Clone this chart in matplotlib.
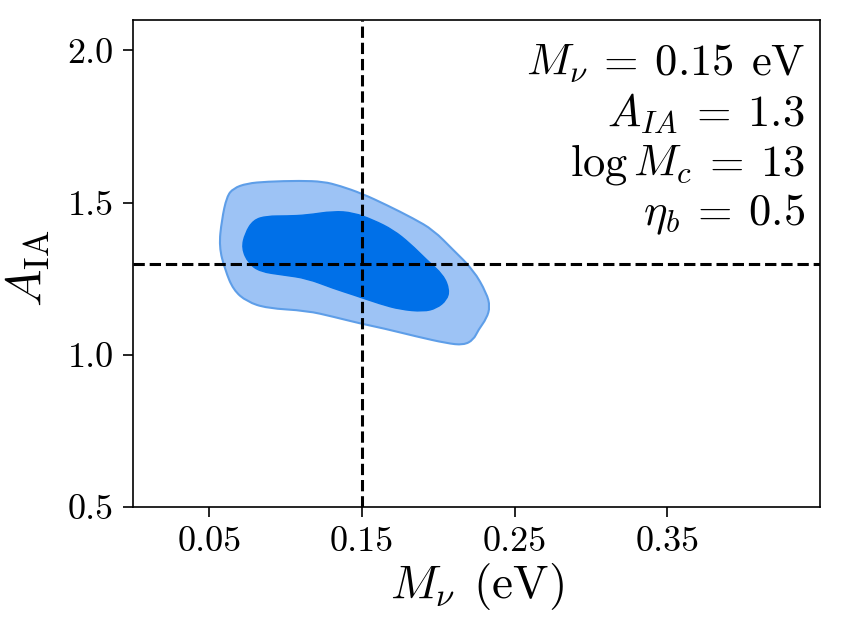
import matplotlib
matplotlib.use("Agg")
import matplotlib.pyplot as plt
from matplotlib.path import Path
from matplotlib.patches import PathPatch

plt.rcParams['font.family'] = 'serif'
plt.rcParams['font.serif'] = ['cmr10']
plt.rcParams['mathtext.fontset'] = 'cm'
plt.rcParams['axes.unicode_minus'] = False

# Fiducial values
mnu_fid = 0.15
aia_fid = 1.3

# Outer (2-sigma) contour vertices: M_nu (eV), A_IA
outer_x = [0.0563, 0.0581, 0.0614, 0.0657, 0.0745, 0.0876, 0.1094, 0.1247, 0.1356,
           0.1498, 0.1662, 0.1836, 0.1967, 0.2098, 0.2229, 0.2316, 0.2338, 0.2316,
           0.2262, 0.2229, 0.2164, 0.2054, 0.1858, 0.1640, 0.1487, 0.1312, 0.1138,
           0.0876, 0.0745, 0.0657, 0.0603]
outer_y = [1.355, 1.443, 1.520, 1.547, 1.563, 1.569, 1.572, 1.569, 1.555,
           1.530, 1.492, 1.448, 1.410, 1.344, 1.279, 1.202, 1.158, 1.120,
           1.082, 1.049, 1.032, 1.038, 1.060, 1.087, 1.103, 1.125, 1.145,
           1.153, 1.175, 1.213, 1.279]

# Inner (1-sigma) contour vertices
inner_x = [0.0712, 0.0734, 0.0788, 0.0876, 0.1007, 0.1138, 0.1312, 0.1443, 0.1574,
           0.1705, 0.1814, 0.1923, 0.2033, 0.2072, 0.2054, 0.1989, 0.1902, 0.1749,
           0.1618, 0.1443, 0.1312, 0.1138, 0.0985, 0.0832, 0.0756]
inner_y = [1.350, 1.399, 1.443, 1.456, 1.456, 1.459, 1.472, 1.467, 1.443,
           1.410, 1.366, 1.312, 1.262, 1.213, 1.180, 1.153, 1.142, 1.149,
           1.167, 1.197, 1.218, 1.251, 1.262, 1.273, 1.301]

xticks = [0.05, 0.15, 0.25, 0.35]
yticks = [0.5, 1.0, 1.5, 2.0]
xtick_labels = ['0.05', '0.15', '0.25', '0.35']
ytick_labels = ['0.5', '1.0', '1.5', '2.0']

annot_lines = [r'$M_\nu \:=\: 0.15\;\, \mathrm{eV}$', r'$A_{IA} \:=\: 1.3$',
               r'$\log M_c \:=\: 13$', r'$\eta_b \:=\: 0.5$']


def smooth_closed_path(xs, ys):
    """Closed path using the vertices as quadratic Bezier control points."""
    n = len(xs)
    pts = list(zip(xs, ys))
    mids = [((pts[i][0] + pts[(i + 1) % n][0]) / 2, (pts[i][1] + pts[(i + 1) % n][1]) / 2)
            for i in range(n)]
    verts = [mids[-1]]
    codes = [Path.MOVETO]
    for i in range(n):
        verts += [pts[i], mids[i]]
        codes += [Path.CURVE3, Path.CURVE3]
    verts.append(mids[-1])
    codes.append(Path.CLOSEPOLY)
    return Path(verts, codes)


fig = plt.figure(figsize=(8.42, 6.25), dpi=100)
ax = fig.add_axes([0.158, 0.1888, 0.816, 0.7792])

ax.add_patch(PathPatch(smooth_closed_path(outer_x, outer_y), facecolor='#9dc3f5',
                       edgecolor='#5e9ee8', linewidth=1.5, zorder=2))
ax.add_patch(PathPatch(smooth_closed_path(inner_x, inner_y), facecolor='#0070e8',
                       edgecolor='#0070e8', linewidth=1.0, zorder=3))

ax.axvline(mnu_fid, color='k', ls='--', lw=2.2, zorder=4)
ax.axhline(aia_fid, color='k', ls='--', lw=2.2, zorder=4)

ax.set_xlim(0.0, 0.45)
ax.set_ylim(0.5, 2.1)
ax.set_xticks(xticks)
ax.set_xticklabels(xtick_labels)
ax.set_yticks(yticks)
ax.set_yticklabels(ytick_labels)
ax.tick_params(labelsize=26, direction='out', length=7, width=1.2, pad=7)
for s in ax.spines.values():
    s.set_linewidth(1.2)

ax.set_xlabel(r'$M_\nu\;\, (\mathrm{eV})$', fontsize=34, labelpad=2)
ax.set_ylabel(r'$A_{\rm IA}$', fontsize=36)
ax.yaxis.set_label_coords(-0.118, 0.49)

ypos = [0.887, 0.784, 0.681, 0.578]
for t, yy in zip(annot_lines, ypos):
    ax.text(0.978, yy, t, transform=ax.transAxes, ha='right', va='baseline', fontsize=32)

fig.savefig('out.png', dpi=100)
